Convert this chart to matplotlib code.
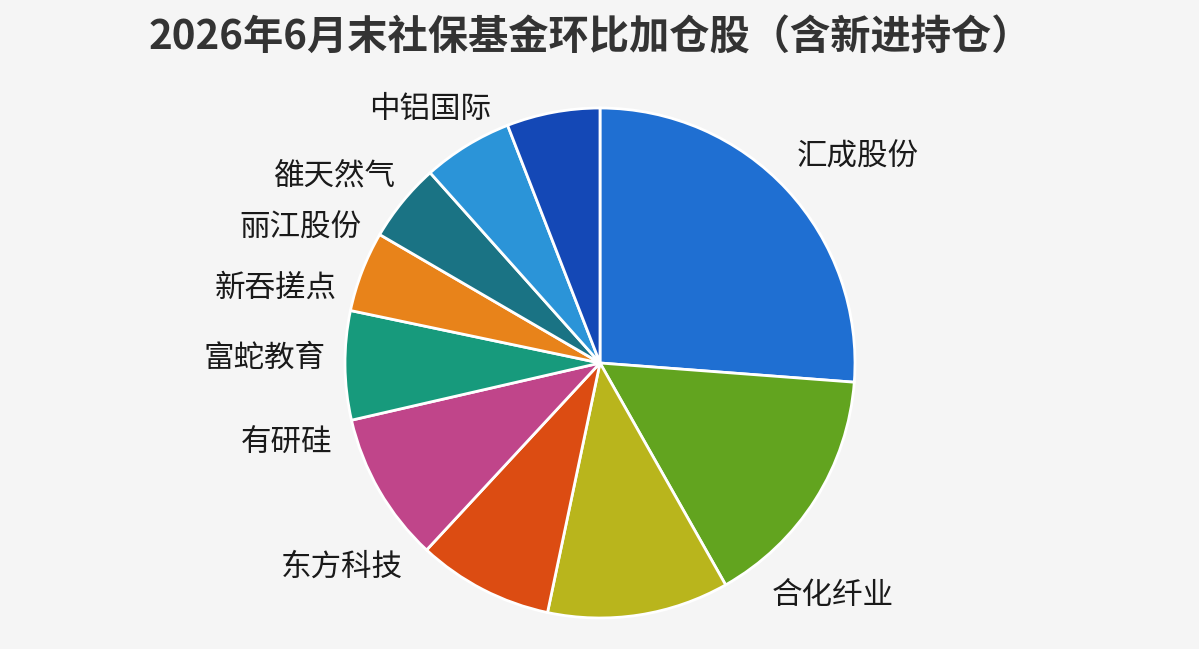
import matplotlib.pyplot as plt

plt.rcParams['font.family'] = ['Noto Sans CJK SC', 'DejaVu Sans']

# Data (share of slice, clockwise from 12 o'clock)
names = ['汇成股份', '合化纤业', '黄河旋风', '东方科技', '有研硅', '富蛇教育',
         '新吞搓点', '丽江股份', '雒天然气', '中铝国际']
shares = [26.2, 15.6, 11.5, 8.6, 9.5, 6.9, 5.1, 5.0, 5.7, 5.9]
colors = ['#1f6fd2', '#62a41f', '#b9b51c', '#dc4c12', '#c0458a', '#179a7c',
          '#e8831a', '#1a7384', '#2b94d8', '#1448b6']
show_label = [True, True, False, True, True, True, True, True, True, True]

# label positions in pixels (x, y from top)
label_pos = [(858, 157), (833, 595), (0, 0), (342, 567), (287, 443),
             (265, 358), (276, 288), (300, 228), (335, 177), (430, 110)]

W, H = 1199, 649
fig = plt.figure(figsize=(W / 100, H / 100), dpi=100)
fig.patch.set_facecolor('#f5f5f5')
ax = fig.add_axes([0, 0, 1, 1])
ax.axis('off')

ax.pie(shares, colors=colors, startangle=90, counterclock=False,
       center=(600, H - 363), radius=255,
       wedgeprops=dict(edgecolor='white', linewidth=2))
ax.set_xlim(0, W)
ax.set_ylim(0, H)
ax.set_aspect('equal')

for name, (x, y), show in zip(names, label_pos, show_label):
    if show:
        ax.text(x, H - y, name, fontsize=22, color='#1a1a1a',
                ha='center', va='center')

ax.text(590, H - 37, '2026年6月末社保基金环比加仓股（含新进持仓）',
        fontsize=29, fontweight='bold', color='#333333',
        ha='center', va='center')

fig.savefig('out.png', dpi=100, facecolor=fig.get_facecolor())
